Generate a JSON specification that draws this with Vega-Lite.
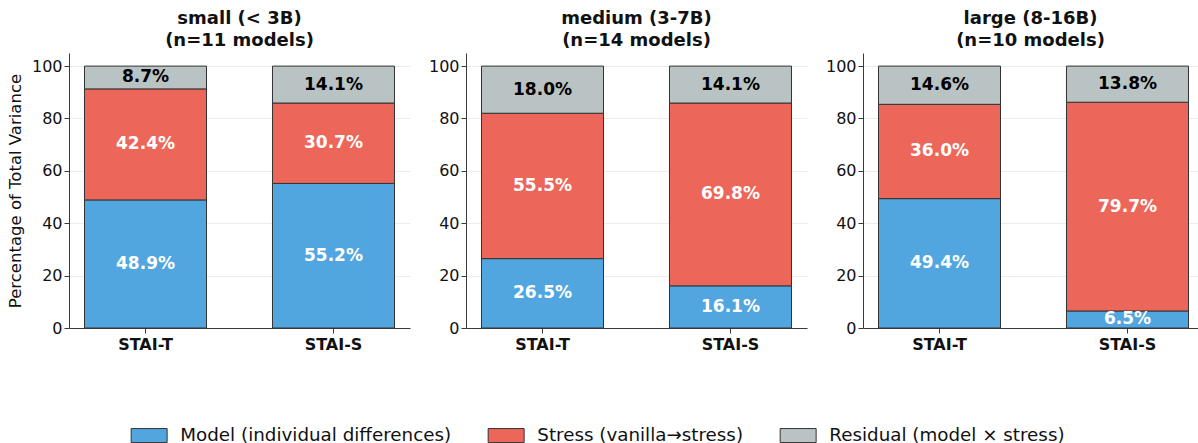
{
  "$schema": "https://vega.github.io/schema/vega-lite/v6.json",
  "padding": {"left": 7, "right": 2, "top": 10, "bottom": 0},
  "config": {
    "font": "DejaVu Sans",
    "view": {"stroke": null},
    "concat": {"spacing": 18},
    "axis": {
      "domainColor": "#3a3a3a",
      "tickColor": "#3a3a3a",
      "labelColor": "#111111",
      "labelFontSize": 16,
      "tickSize": 5,
      "labelPadding": 2
    },
    "legend": {"layout": {"bottom": {"anchor": "middle"}}},
    "title": {"fontSize": 18, "fontWeight": "bold", "color": "#111111", "lineHeight": 22, "offset": 3}
  },
  "data": {
    "values": [
      {"group": "small", "scale": "STAI-T", "component": "Model (individual differences)", "order": 1, "value": 48.9},
      {"group": "small", "scale": "STAI-T", "component": "Stress (vanilla→stress)", "order": 2, "value": 42.4},
      {"group": "small", "scale": "STAI-T", "component": "Residual (model × stress)", "order": 3, "value": 8.7},
      {"group": "small", "scale": "STAI-S", "component": "Model (individual differences)", "order": 1, "value": 55.2},
      {"group": "small", "scale": "STAI-S", "component": "Stress (vanilla→stress)", "order": 2, "value": 30.7},
      {"group": "small", "scale": "STAI-S", "component": "Residual (model × stress)", "order": 3, "value": 14.1},
      {"group": "medium", "scale": "STAI-T", "component": "Model (individual differences)", "order": 1, "value": 26.5},
      {"group": "medium", "scale": "STAI-T", "component": "Stress (vanilla→stress)", "order": 2, "value": 55.5},
      {"group": "medium", "scale": "STAI-T", "component": "Residual (model × stress)", "order": 3, "value": 18.0},
      {"group": "medium", "scale": "STAI-S", "component": "Model (individual differences)", "order": 1, "value": 16.1},
      {"group": "medium", "scale": "STAI-S", "component": "Stress (vanilla→stress)", "order": 2, "value": 69.8},
      {"group": "medium", "scale": "STAI-S", "component": "Residual (model × stress)", "order": 3, "value": 14.1},
      {"group": "large", "scale": "STAI-T", "component": "Model (individual differences)", "order": 1, "value": 49.4},
      {"group": "large", "scale": "STAI-T", "component": "Stress (vanilla→stress)", "order": 2, "value": 36.0},
      {"group": "large", "scale": "STAI-T", "component": "Residual (model × stress)", "order": 3, "value": 14.6},
      {"group": "large", "scale": "STAI-S", "component": "Model (individual differences)", "order": 1, "value": 6.5},
      {"group": "large", "scale": "STAI-S", "component": "Stress (vanilla→stress)", "order": 2, "value": 79.7},
      {"group": "large", "scale": "STAI-S", "component": "Residual (model × stress)", "order": 3, "value": 13.8}
    ]
  },
  "transform": [
    {"stack": "value", "groupby": ["group", "scale"], "sort": [{"field": "order", "order": "ascending"}], "as": ["v0", "v1"]},
    {"calculate": "(datum.v0 + datum.v1) / 2", "as": "mid"},
    {"calculate": "format(datum.value, '.1f') + '%'", "as": "label"}
  ],
  "hconcat": [
    {
      "width": 341, "height": 275,
      "title": {"text": ["small (< 3B)", "(n=11 models)"]},
      "transform": [{"filter": "datum.group === 'small'"}],
      "layer": [
        {
          "mark": {"type": "bar", "stroke": "#333333", "strokeWidth": 1},
          "encoding": {
            "x": {"field": "scale", "type": "nominal", "sort": ["STAI-T", "STAI-S"], "title": null,
                  "scale": {"paddingInner": 0.351, "paddingOuter": 0.0825},
                  "axis": {"labelAngle": 0, "labelFontWeight": "bold", "labelFontSize": 16, "labelPadding": 3}},
            "y": {"field": "v0", "type": "quantitative", "title": "Percentage of Total Variance",
                  "scale": {"domain": [0, 105], "nice": false},
                  "axis": {"values": [0, 20, 40, 60, 80, 100], "grid": true, "gridColor": "#ececec", "titleFontSize": 16.5, "titleFontWeight": "normal", "titleColor": "#111111", "titlePadding": 8}},
            "y2": {"field": "v1"},
            "color": {"field": "component", "type": "nominal",
                      "scale": {"domain": ["Model (individual differences)", "Stress (vanilla→stress)", "Residual (model × stress)"],
                                "range": ["#52a6df", "#ec6759", "#b9c3c3"]},
                      "legend": {"title": null, "orient": "bottom", "direction": "horizontal", "offset": 74,
                                 "symbolType": "M-2.57,-1H2.57V1H-2.57Z", "symbolSize": 196, "symbolStrokeColor": "#555555", "symbolStrokeWidth": 1,
                                 "labelFontSize": 18.3, "labelColor": "#111111", "labelOffset": 22, "labelLimit": 500, "columnPadding": 34, "symbolOpacity": 1}}
          }
        },
        {
          "mark": {"type": "text", "fontSize": 17, "fontWeight": "bold", "align": "center", "baseline": "middle"},
          "encoding": {
            "x": {"field": "scale", "type": "nominal", "sort": ["STAI-T", "STAI-S"]},
            "y": {"field": "mid", "type": "quantitative"},
            "text": {"field": "label"},
            "color": {"condition": {"test": "datum.order === 3", "value": "#000000"}, "value": "#ffffff"}
          }
        }
      ]
    },
    {
      "width": 341, "height": 275,
      "title": {"text": ["medium (3-7B)", "(n=14 models)"]},
      "transform": [{"filter": "datum.group === 'medium'"}],
      "layer": [
        {
          "mark": {"type": "bar", "stroke": "#333333", "strokeWidth": 1},
          "encoding": {
            "x": {"field": "scale", "type": "nominal", "sort": ["STAI-T", "STAI-S"], "title": null,
                  "scale": {"paddingInner": 0.351, "paddingOuter": 0.0825},
                  "axis": {"labelAngle": 0, "labelFontWeight": "bold", "labelFontSize": 16, "labelPadding": 3}},
            "y": {"field": "v0", "type": "quantitative", "title": null,
                  "scale": {"domain": [0, 105], "nice": false},
                  "axis": {"values": [0, 20, 40, 60, 80, 100], "grid": true, "gridColor": "#ececec"}},
            "y2": {"field": "v1"},
            "color": {"field": "component", "type": "nominal"}
          }
        },
        {
          "mark": {"type": "text", "fontSize": 17, "fontWeight": "bold", "align": "center", "baseline": "middle"},
          "encoding": {
            "x": {"field": "scale", "type": "nominal", "sort": ["STAI-T", "STAI-S"]},
            "y": {"field": "mid", "type": "quantitative"},
            "text": {"field": "label"},
            "color": {"condition": {"test": "datum.order === 3", "value": "#000000"}, "value": "#ffffff"}
          }
        }
      ]
    },
    {
      "width": 335, "height": 275,
      "title": {"text": ["large (8-16B)", "(n=10 models)"]},
      "transform": [{"filter": "datum.group === 'large'"}],
      "layer": [
        {
          "mark": {"type": "bar", "stroke": "#333333", "strokeWidth": 1},
          "encoding": {
            "x": {"field": "scale", "type": "nominal", "sort": ["STAI-T", "STAI-S"], "title": null,
                  "scale": {"paddingInner": 0.351, "paddingOuter": 0.0665, "align": 0.62},
                  "axis": {"labelAngle": 0, "labelFontWeight": "bold", "labelFontSize": 16, "labelPadding": 3}},
            "y": {"field": "v0", "type": "quantitative", "title": null,
                  "scale": {"domain": [0, 105], "nice": false},
                  "axis": {"values": [0, 20, 40, 60, 80, 100], "grid": true, "gridColor": "#ececec"}},
            "y2": {"field": "v1"},
            "color": {"field": "component", "type": "nominal"}
          }
        },
        {
          "mark": {"type": "text", "fontSize": 17, "fontWeight": "bold", "align": "center", "baseline": "middle"},
          "encoding": {
            "x": {"field": "scale", "type": "nominal", "sort": ["STAI-T", "STAI-S"]},
            "y": {"field": "mid", "type": "quantitative"},
            "text": {"field": "label"},
            "color": {"condition": {"test": "datum.order === 3", "value": "#000000"}, "value": "#ffffff"}
          }
        }
      ]
    }
  ]
}
